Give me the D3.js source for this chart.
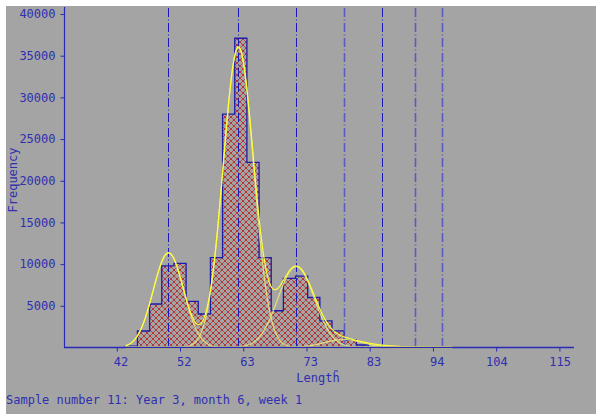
<!DOCTYPE html>
<html>
<head>
<meta charset="utf-8">
<script src="https://cdn.jsdelivr.net/npm/d3@7/dist/d3.min.js"></script>
<style>
  html, body { margin: 0; padding: 0; background: #ffffff; }
  svg { display: block; }
  text { font-family: "DejaVu Sans Mono", "Liberation Mono", monospace; font-size: 12px; fill: #2f2fb0; }
</style>
</head>
<body>
<svg id="chart" width="596" height="414"></svg>
<script>
// Length-frequency histogram: bins are 2 length units wide, starting at binStart
const binStart = 43.2;
const binWidth = 2;
const binCounts = [150, 1980, 5220, 9780, 10100, 5540, 4020, 10770, 28000, 37090,
                   22210, 10770, 4410, 8300, 8560, 6000, 3200, 2000, 900, 300,
                   100, 40];

// Fitted normal components (cohorts): mean length, standard deviation, peak frequency
const compMeans = [50.3, 61.8, 71.3, 79.1, 85.5, 90.9, 95.3];
const compSds   = [2.5, 2.5, 3.0, 3.2, 3.0, 3.0, 3.0];
const compPeaks = [11350, 36000, 9700, 950, 150, 25, 8];
// dash-dot marker lines at the component means; the faint ones are drawn lighter
const markerFaint = [false, false, false, true, false, true, true];

// Axis ticks
const xTickValues = [41.8, 52.2, 62.6, 73.0, 83.4, 93.8, 104.2, 114.6];
const xTickLabels = ["42", "52", "63", "73", "83", "94", "104", "115"];
const yTickValues = [5000, 10000, 15000, 20000, 25000, 30000, 35000, 40000];

const curveRange = [43.2, 97.0];
const caption = "Sample number 11: Year 3, month 6, week 1";

const svg = d3.select("#chart");
const W = 596, H = 414;

const x = d3.scaleLinear().domain([33.2, 117.0]).range([64.5, 574]);
const y = d3.scaleLinear().domain([0, 40000]).range([347.5, 14]);

// panel background
svg.append("rect").attr("x", 6).attr("y", 6).attr("width", W - 6).attr("height", H - 6)
  .attr("fill", "#a4a4a4");

// cross-hatch fill for the histogram
const defs = svg.append("defs");
const pat = defs.append("pattern").attr("id", "hatch")
  .attr("patternUnits", "userSpaceOnUse").attr("width", 6).attr("height", 6);
pat.append("path").attr("d", "M0,0L6,6M6,0L0,6")
  .attr("stroke", "#a83c3c").attr("stroke-width", 0.8).attr("fill", "none");
[[0, 0], [6, 0], [0, 6], [6, 6], [3, 3]].forEach(([cx, cy]) => {
  pat.append("circle").attr("cx", cx).attr("cy", cy).attr("r", 0.8).attr("fill", "#c41010");
});

// histogram as a step outline
const bins = binCounts.map((c, i) => ({ x0: binStart + i * binWidth, x1: binStart + (i + 1) * binWidth, c }));
let d = `M${x(bins[0].x0)},${y(0)}`;
bins.forEach(b => { d += `L${x(b.x0)},${y(b.c)}L${x(b.x1)},${y(b.c)}`; });
d += `L${x(bins[bins.length - 1].x1)},${y(0)}Z`;
svg.append("path").attr("d", d).attr("fill", "url(#hatch)");
svg.append("path").attr("d", d).attr("fill", "none")
  .attr("stroke", "#1c1ca8").attr("stroke-width", 1.3);

// dash-dot lines at component means
svg.append("g").selectAll("line").data(compMeans).join("line")
  .attr("x1", m => Math.round(x(m)) + 0.5).attr("x2", m => Math.round(x(m)) + 0.5)
  .attr("y1", 8).attr("y2", y(0))
  .attr("stroke", (m, i) => markerFaint[i] ? "#5a5ac4" : "#1a1ab8")
  .attr("stroke-width", (m, i) => markerFaint[i] ? 1.6 : 1)
  .attr("stroke-dasharray", "9,2.5,1,2.5");

// normal curves
const gauss = (v, i) => compPeaks[i] * Math.exp(-0.5 * Math.pow((v - compMeans[i]) / compSds[i], 2));
const xs = d3.range(curveRange[0], curveRange[1] + 0.001, 0.1);
const line = d3.line().x(p => x(p[0])).y(p => y(p[1]));
compMeans.forEach((m, i) => {
  svg.append("path").attr("d", line(xs.map(v => [v, gauss(v, i)])))
    .attr("fill", "none").attr("stroke", "#e4e47a").attr("stroke-width", 1.3)
    .attr("stroke-opacity", 0.9);
});
svg.append("path")
  .attr("d", line(xs.map(v => [v, d3.sum(compMeans, (m, i) => gauss(v, i))])))
  .attr("fill", "none").attr("stroke", "#ffff38").attr("stroke-width", 1.2);

// axes
const axisColor = "#2a2ab8";
const yAxis = svg.append("g").attr("transform", "translate(64.5,0)")
  .call(d3.axisLeft(y).tickValues(yTickValues).tickSize(4).tickPadding(5).tickFormat(d3.format("d")));
yAxis.select(".domain").remove();
yAxis.selectAll(".tick line").attr("stroke", axisColor);
yAxis.selectAll(".tick text").attr("font-size", 12).attr("fill", "#2f2fb0")
  .attr("font-family", "DejaVu Sans Mono");
svg.append("line").attr("x1", 64.5).attr("x2", 64.5).attr("y1", 7).attr("y2", 348)
  .attr("stroke", axisColor).attr("stroke-width", 1.2);

const xAxis = svg.append("g").attr("transform", `translate(0,${y(0)})`)
  .call(d3.axisBottom(x).tickValues(xTickValues).tickSize(4)
    .tickFormat((v, i) => xTickLabels[i]));
xAxis.select(".domain").remove();
xAxis.selectAll(".tick line").attr("stroke", axisColor);
xAxis.selectAll(".tick text").attr("font-size", 12).attr("fill", "#2f2fb0")
  .attr("font-family", "DejaVu Sans Mono")
  .attr("text-anchor", "end").attr("x", 11).attr("y", 18.5).attr("dy", null);
svg.append("line").attr("x1", 64).attr("x2", 574).attr("y1", y(0)).attr("y2", y(0))
  .attr("stroke", axisColor).attr("stroke-width", 1.3);

// axis titles and caption
svg.append("text").attr("x", 318).attr("y", 382).attr("text-anchor", "middle").text("Length");
svg.append("line").attr("x1", 334).attr("x2", 338).attr("y1", 371).attr("y2", 371)
  .attr("stroke", "#2f2fb0").attr("stroke-width", 1);
svg.append("text").attr("transform", "translate(16.5,180) rotate(-90)")
  .attr("text-anchor", "middle").text("Frequency");
svg.append("text").attr("x", 6).attr("y", 404).text(caption);
</script>
</body>
</html>
